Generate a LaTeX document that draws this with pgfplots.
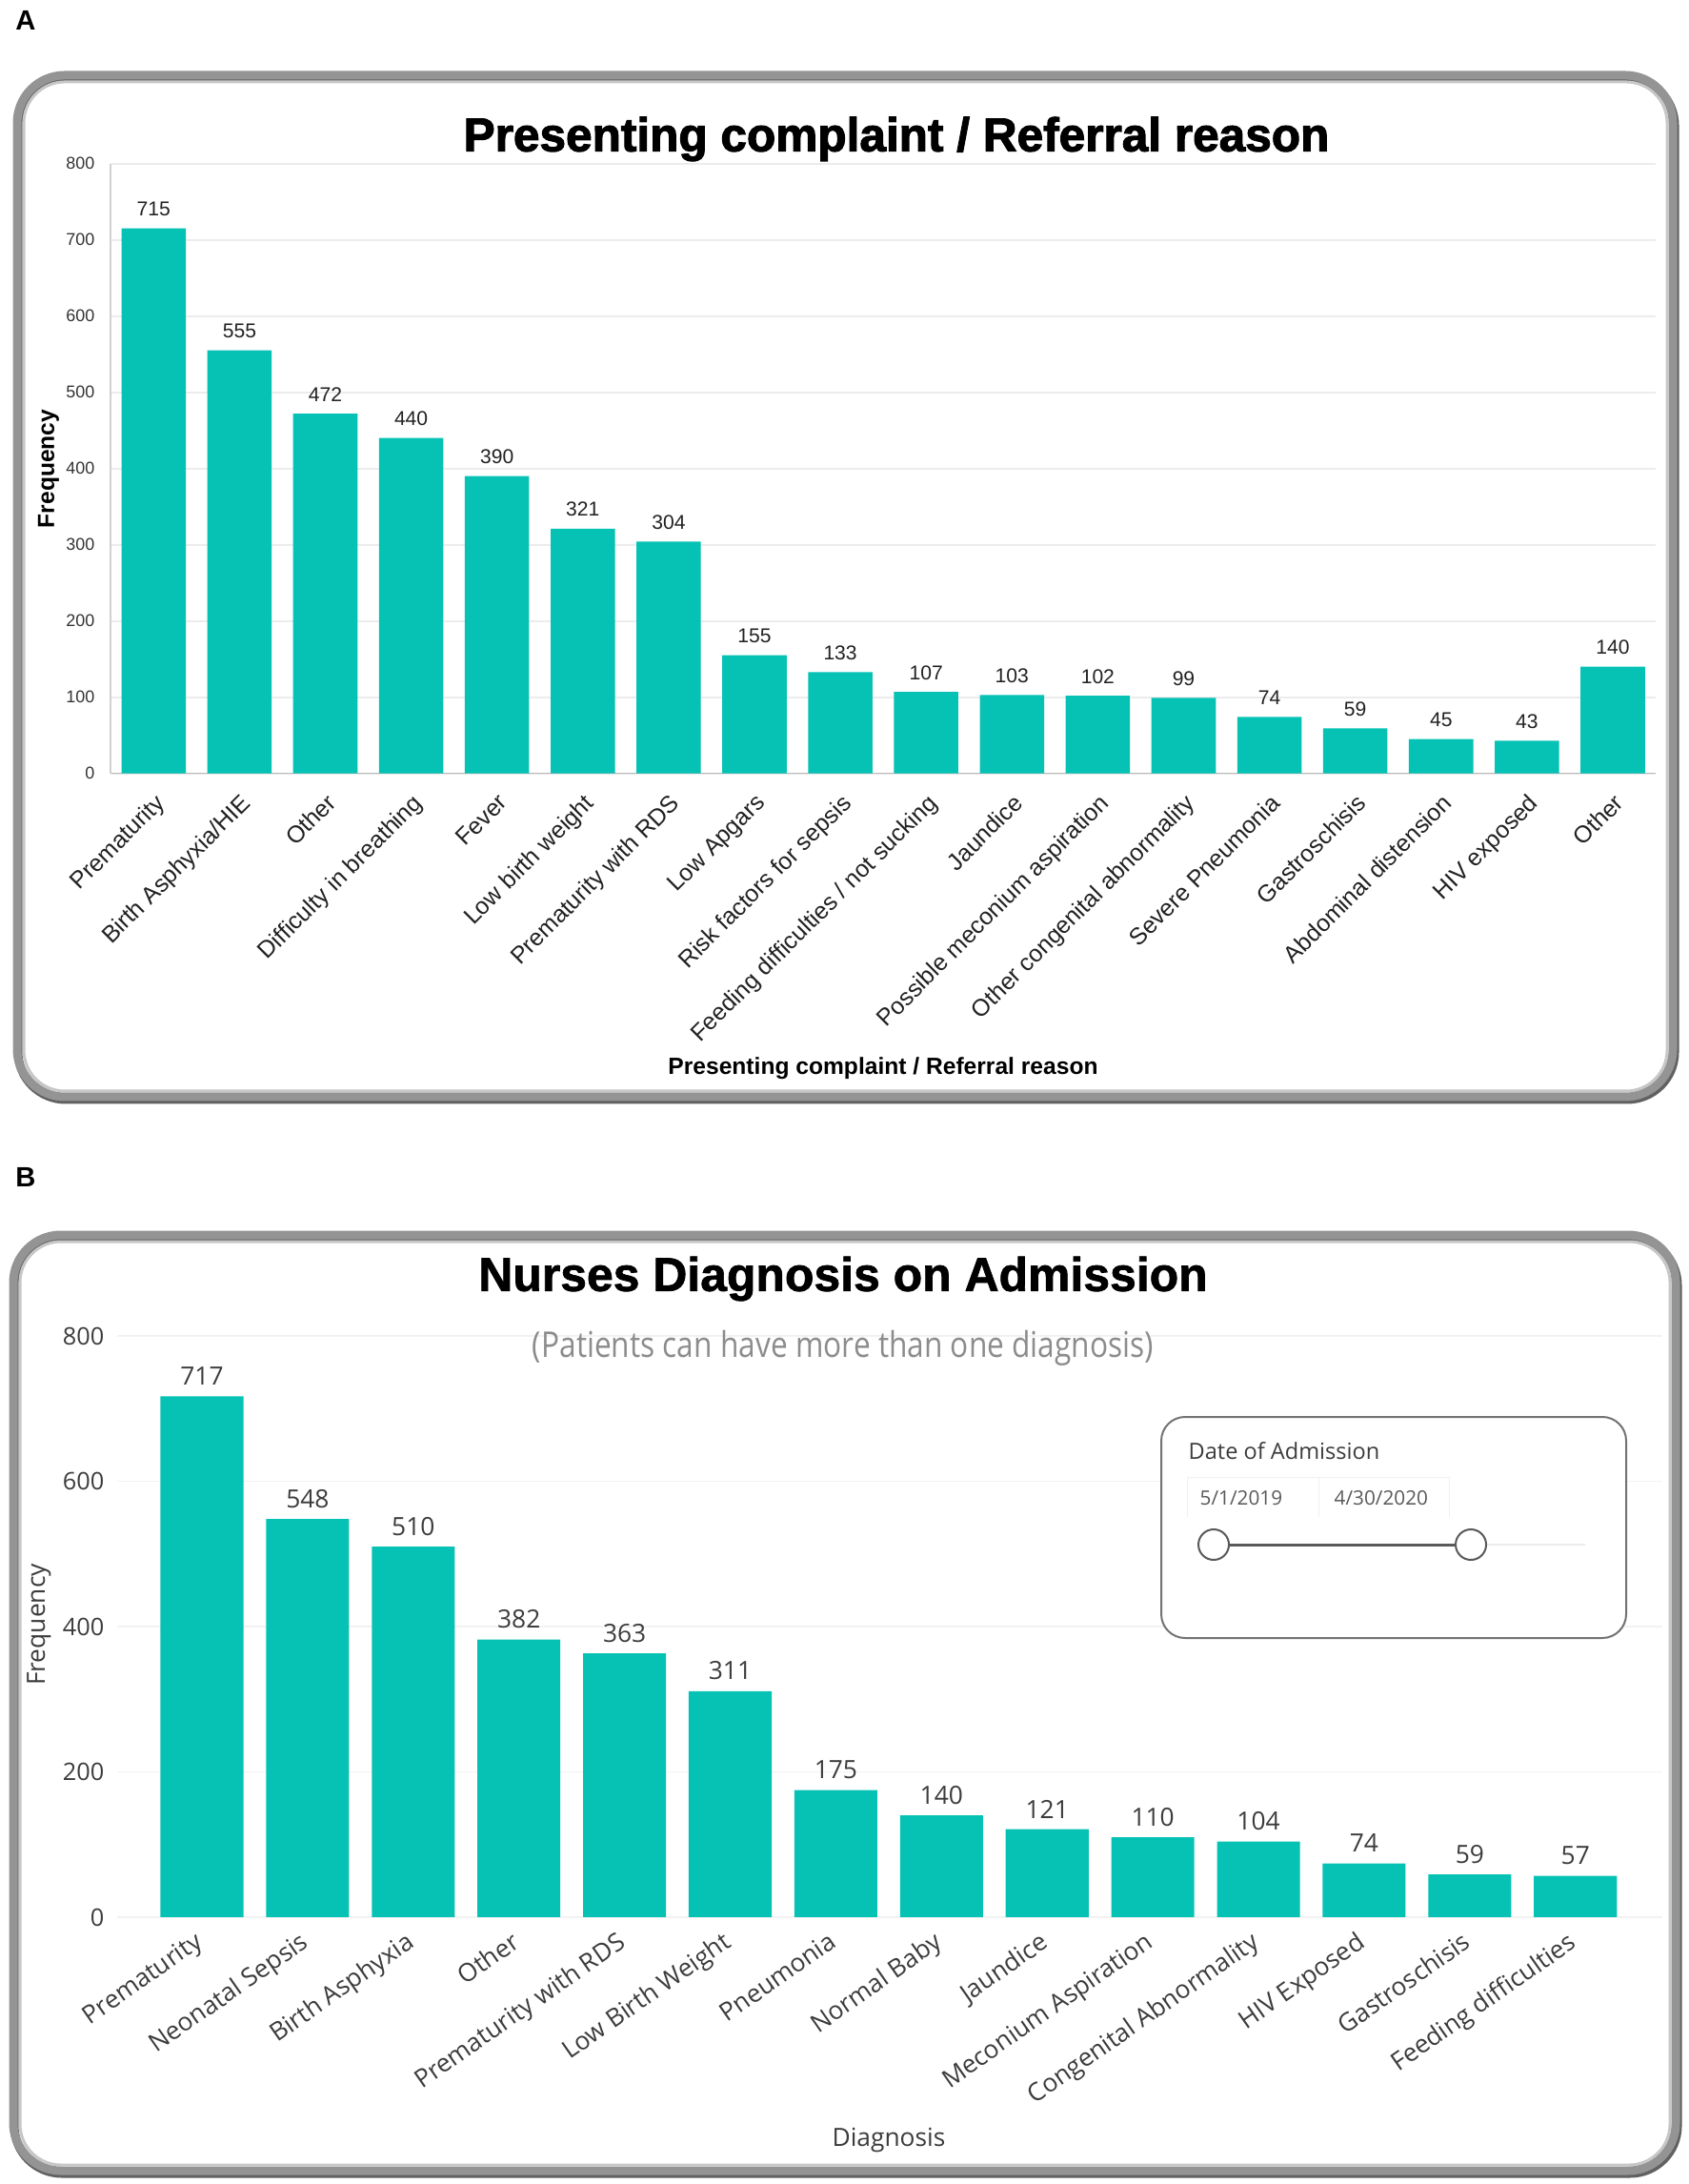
\documentclass[border=0pt]{standalone}
\usepackage{fontspec}
\usepackage{pgfplots}
\pgfplotsset{compat=1.18}
\setmainfont{Liberation Sans}
\newfontfamily\arialbf[FakeBold=2.2]{Liberation Sans Bold}
\newfontfamily\arialbfb[FakeBold=1.4]{Liberation Sans Bold}
\newfontfamily\arialb{Liberation Sans Bold}
\newfontfamily\arial{Liberation Sans}
\newfontfamily\segoe{Open Sans}
\newfontfamily\segoelt[FakeStretch=0.85]{Open Sans}
\newcommand\fs[1]{\fontsize{#1pt}{#1pt}\selectfont}
\definecolor{barc}{RGB}{6,194,181}
\definecolor{txtA}{RGB}{34,34,34}
\definecolor{txtB}{RGB}{60,60,60}
\definecolor{gridA}{RGB}{236,236,236}
\definecolor{gridB}{RGB}{242,242,242}
\pgfplotsset{/pgf/number format/assume math mode=true}

\begin{document}
\begin{tikzpicture}
\path[use as bounding box, fill=white] (0,0) rectangle (177.2mm,229.2mm);

% ---------- Panel A ----------
\begin{axis}[
  at={(11.6mm,148.03mm)}, anchor=south west, scale only axis,
  width=162.2mm, height=64mm,
  xmin=-0.503, xmax=17.5, ymin=0, ymax=800,
  ybar, bar width=0.75,
  ytick={0,100,...,800},
  xtick={0,...,17},
  xticklabels={Prematurity, Birth Asphyxia/HIE, Other, Difficulty in breathing, Fever, Low birth weight, Prematurity with RDS, Low Apgars, Risk factors for sepsis, Feeding difficulties / not sucking, Jaundice, Possible meconium aspiration, Other congenital abnormality, Severe Pneumonia, Gastroschisis, Abdominal distension, HIV exposed, Other},
  axis x line*=bottom, axis y line*=left,
  x axis line style={draw=black!28, line width=0.15mm},
  y axis line style={draw=black!18, line width=0.12mm},
  major tick length=0pt,
  ymajorgrids, grid style={draw=gridA, line width=0.18mm},
  yticklabel style={font=\arial\fs{5.1}, text=black!80, anchor=east, inner sep=0pt, xshift=-1.6mm},
  xticklabel style={font=\arial\fs{7.1}, text=txtA, inner sep=0pt, anchor=north east, rotate=45},
  xticklabel shift=1.9mm,
  nodes near coords,
  every node near coord/.append style={font=\arial\fs{6}, text=txtA, anchor=south, inner sep=0pt, yshift=1.2mm},
  clip=false,
]
\addplot[fill=barc, draw=none] coordinates {
(0,715) (1,555) (2,472) (3,440) (4,390) (5,321) (6,304) (7,155) (8,133)
(9,107) (10,103) (11,102) (12,99) (13,74) (14,59) (15,45) (16,43) (17,140)};
\end{axis}

% ---------- Panel B ----------
\begin{axis}[
  at={(12.3mm,28.0mm)}, anchor=south west, scale only axis,
  width=162.2mm, height=61.0mm,
  xmin=-0.8025, xmax=13.823, ymin=0, ymax=800,
  ybar, bar width=0.785,
  ytick={0,200,...,800},
  xtick={0,...,13},
  xticklabels={Prematurity, Neonatal Sepsis, Birth Asphyxia, Other, Prematurity with RDS, Low Birth Weight, Pneumonia, Normal Baby, Jaundice, Meconium Aspiration, Congenital Abnormality, HIV Exposed, Gastroschisis, Feeding difficulties},
  axis line style={draw=none},
  major tick length=0pt,
  ymajorgrids, grid style={draw=gridB, line width=0.18mm},
  yticklabel style={font=\segoe\fs{7.2}, text=txtB, anchor=east, inner sep=0pt, xshift=-1.3mm},
  xticklabel style={font=\segoe\fs{7.5}, text=txtB, inner sep=0pt, anchor=north east, xshift=-0.9mm, rotate=35},
  xticklabel shift=1.3mm,
  nodes near coords,
  every node near coord/.append style={font=\segoe\fs{7.5}, text=txtB, anchor=south, inner sep=0pt, yshift=1.1mm},
  clip=false,
]
\addplot[fill=barc, draw=none] coordinates {
(0,717) (1,548) (2,510) (3,382) (4,363) (5,311) (6,175) (7,140) (8,121)
(9,110) (10,104) (11,74) (12,59) (13,57)};
\end{axis}

\begin{scope}[yshift=229.2mm, x=0.1mm, y=-0.1mm]
  % frames
  \foreach \xa/\ya/\xb/\yb in {12/73/1763/1159, 8/1290/1766/2286}{
    \draw[draw=black!62, line width=0.9mm, rounded corners=5mm]
      (\xa+7,\ya+9) rectangle (\xb-5,\yb-5);
    \draw[draw=black!42, line width=0.9mm, rounded corners=5mm]
      (\xa+6,\ya+6) rectangle (\xb-7,\yb-8);
    \draw[draw=black!22, line width=0.3mm, rounded corners=4.3mm]
      (\xa+13,\ya+13) rectangle (\xb-13,\yb-14);
  }
  % panel letters
  \node[font=\arialb\fs{8.3}, anchor=center] at (27,21) {A};
  \node[font=\arialb\fs{8.3}, anchor=center] at (27,1235) {B};
  % titles
  \node[font=\arialbf\fs{14.1}, anchor=center] at (941,146) {Presenting complaint / Referral reason};
  \node[font=\arialbfb\fs{14.2}, anchor=center] at (885,1342) {Nurses Diagnosis on Admission};
  \node[font=\segoelt\fs{10.6}, text=black!45, anchor=center] at (885,1415) {(Patients can have more than one diagnosis)};
  % axis labels A
  \node[font=\arialb\fs{7}, anchor=center] at (927,1121) {Presenting complaint / Referral reason};
  \node[font=\arialb\fs{7}, anchor=center, rotate=90] at (51,492) {Frequency};
  % axis labels B
  \node[font=\segoe\fs{7.5}, text=txtB, anchor=center] at (933,2246) {Diagnosis};
  \node[font=\segoe\fs{7.5}, text=txtB, anchor=center, rotate=90] at (41,1705) {Frequency};
  % slicer box
  \draw[draw=black!55, line width=0.2mm, fill=white, rounded corners=2.5mm] (1219,1487) rectangle (1707,1719);
  \draw[draw=black!6, line width=0.1mm] (1246,1592) -- (1246,1550) -- (1521,1550) -- (1521,1592);
  \draw[draw=black!6, line width=0.1mm] (1384,1550) -- (1384,1592);
  \node[font=\segoe\fs{6.7}, text=txtB, anchor=west, inner sep=0pt] at (1247,1523) {Date of Admission};
  \node[font=\segoe\fs{5.9}, text=black!65, anchor=west, inner sep=0pt] at (1259,1572) {5/1/2019};
  \node[font=\segoe\fs{5.9}, text=black!65, anchor=west, inner sep=0pt] at (1400,1572) {4/30/2020};
  \draw[draw=black!8, line width=0.2mm] (1560,1621) -- (1664,1621);
  \draw[draw=black!65, line width=0.3mm] (1274,1621) -- (1544,1621);
  \draw[draw=black!65, line width=0.2mm, fill=white] (1274,1621) circle (1.6mm);
  \draw[draw=black!65, line width=0.2mm, fill=white] (1544,1621) circle (1.6mm);
\end{scope}
\end{tikzpicture}
\end{document}
